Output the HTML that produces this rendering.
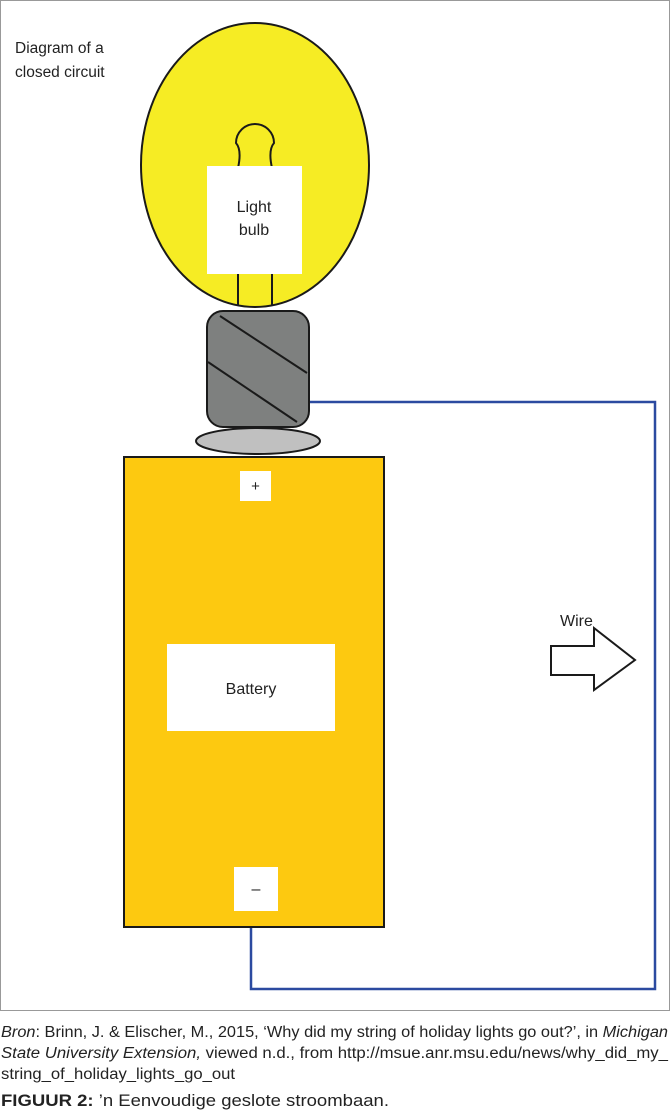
<!DOCTYPE html>
<html><head><meta charset="utf-8"><style>
body{margin:0;width:671px;height:1111px;background:#fff;font-family:"Liberation Sans",sans-serif;overflow:hidden}
</style></head><body>
<svg width="671" height="1111" style="position:absolute;left:0;top:0" font-family="Liberation Sans, sans-serif">
<rect x="0.5" y="0.5" width="669" height="1010" fill="#fff" stroke="#999"/>
<text x="15" y="53" font-size="15.5" fill="#222">Diagram of a</text>
<text x="15" y="77" font-size="15.5" fill="#222">closed circuit</text>
<ellipse cx="255" cy="165" rx="114" ry="142" fill="#f6ec24" stroke="#1a1a1a" stroke-width="2"/>
<path d="M238 168 Q242 150 236 143 A19 19 0 1 1 274 143 Q268 150 272 168" fill="none" stroke="#1a1a1a" stroke-width="2"/>
<line x1="238" y1="274" x2="238" y2="306" stroke="#1a1a1a" stroke-width="2"/>
<line x1="272" y1="274" x2="272" y2="306" stroke="#1a1a1a" stroke-width="2"/>
<rect x="207" y="166" width="95" height="108" fill="#fff"/>
<text x="254" y="212" font-size="16" text-anchor="middle" fill="#222">Light</text>
<text x="254" y="235" font-size="16" text-anchor="middle" fill="#222">bulb</text>
<path d="M309 402 H655 V989 H251 V927" fill="none" stroke="#2b4aa0" stroke-width="2.5"/>
<rect x="207" y="311" width="102" height="116" rx="16" fill="#7e807f" stroke="#1a1a1a" stroke-width="2"/>
<line x1="220" y1="316" x2="307" y2="373" stroke="#1a1a1a" stroke-width="2"/>
<line x1="208" y1="362" x2="297" y2="422" stroke="#1a1a1a" stroke-width="2"/>
<ellipse cx="258" cy="441" rx="62" ry="13" fill="#c0c0c0" stroke="#1a1a1a" stroke-width="2"/>
<rect x="124" y="457" width="260" height="470" fill="#fdc910" stroke="#1a1a1a" stroke-width="2"/>
<rect x="240" y="471" width="31" height="30" fill="#fff"/>
<text x="255.5" y="491" font-size="15" text-anchor="middle" fill="#222">+</text>
<rect x="167" y="644" width="168" height="87" fill="#fff"/>
<text x="251" y="694" font-size="16" text-anchor="middle" fill="#222">Battery</text>
<rect x="234" y="867" width="44" height="44" fill="#fff"/>
<text x="256" y="894" font-size="16" text-anchor="middle" fill="#222">–</text>
<text x="560" y="626" font-size="16" fill="#222">Wire</text>
<path d="M551 646 H594 V628 L635 660 L594 690 V675 H551 Z" fill="#fff" stroke="#1a1a1a" stroke-width="2"/>
<g font-size="15.5" fill="#222">
<text x="1" y="1037" textLength="667" lengthAdjust="spacingAndGlyphs"><tspan font-style="italic">Bron</tspan>: Brinn, J. &amp; Elischer, M., 2015, ‘Why did my string of holiday lights go out?’, in <tspan font-style="italic">Michigan</tspan></text>
<text x="1" y="1058" textLength="667" lengthAdjust="spacingAndGlyphs"><tspan font-style="italic">State University Extension,</tspan> viewed n.d., from http://msue.anr.msu.edu/news/why_did_my_</text>
<text x="1" y="1079" textLength="234" lengthAdjust="spacingAndGlyphs">string_of_holiday_lights_go_out</text>
<text x="1" y="1106" font-size="16.5" textLength="388" lengthAdjust="spacingAndGlyphs"><tspan font-weight="bold">FIGUUR 2:</tspan> ’n Eenvoudige geslote stroombaan.</text>
</g>
</svg>
</body></html>
